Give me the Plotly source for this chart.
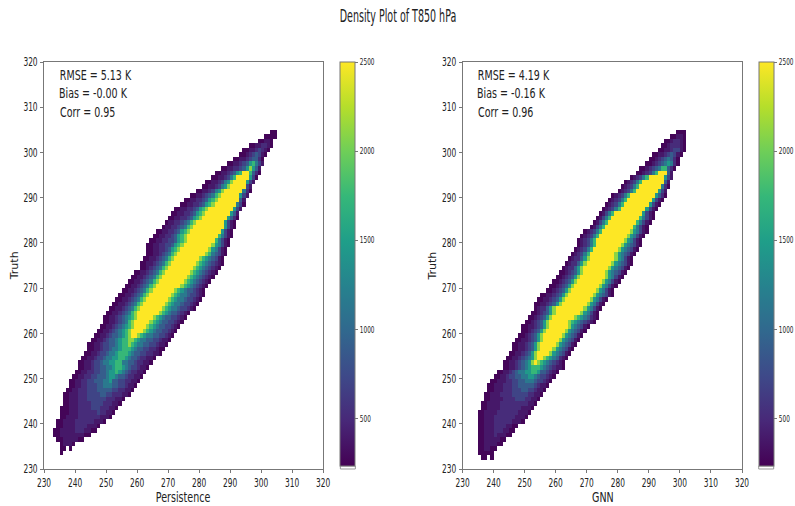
import plotly.graph_objects as go

TITLE = "Density Plot of T850 hPa"
TICKS = [230, 240, 250, 260, 270, 280, 290, 300, 310, 320]
CBAR_TICKS = [500, 1000, 1500, 2000, 2500]
LEVELS = [260, 380, 520, 700, 900, 1150, 1450, 1750, 2100, 2500]
STATS_A = ["RMSE = 5.13 K", "Bias = -0.00 K", "Corr = 0.95"]
STATS_B = ["RMSE = 4.19 K", "Bias = -0.16 K", "Corr = 0.96"]

# (truth bin, first forecast bin, one density level per cell)
PERSISTENCE = [
    (304, 303, "00"), (303, 301, "0000"), (302, 299, "00110"), (301, 296, "00112210"),
    (300, 294, "001123210"), (299, 293, "001234310"), (298, 291, "0011234420"),
    (297, 289, "001123467531"), (296, 287, "0011223468641"), (295, 285, "001123467997420"),
    (294, 284, "001123579999630"), (293, 282, "0011235689999631"), (292, 281, "0011235689999931"),
    (291, 279, "001123568999999520"), (290, 277, "0011234578999999631"),
    (289, 275, "00112234678999999941"), (288, 274, "001122346789999999530"),
    (287, 272, "0011223467899999999631"), (286, 271, "0011223467899999999641"),
    (285, 270, "00112234678999999996420"), (284, 269, "01122345789999999996310"),
    (283, 268, "011223457899999999996310"), (282, 266, "0011223467899999999996310"),
    (281, 265, "00112234678999999999975310"), (280, 264, "00112233467899999999975310"),
    (279, 263, "001122334678999999999865310"), (278, 263, "00112234678999999999865310"),
    (277, 263, "00112345789999999998754310"), (276, 262, "00112345789999999987654310"),
    (275, 261, "001123457899999999876543210"), (274, 261, "00123457899999999876543210"),
    (273, 259, "001123457899999999876543210"), (272, 258, "001123457899999999876543210"),
    (271, 257, "001123457899999999876543210"), (270, 256, "001123457899999999876543210"),
    (269, 255, "001123457899999998765443210"), (268, 254, "0011234578999999987655433210"),
    (267, 253, "0011234578999999987655433210"), (266, 252, "0011234578999999987655433210"),
    (265, 251, "0011234578999999987655433210"), (264, 250, "001123457899999998765443210"),
    (263, 249, "001123456789999987654433210"), (262, 249, "00112345789999987654433210"),
    (261, 248, "00112345678999987654433210"), (260, 247, "00112345678999987654433210"),
    (259, 246, "00112344567899876554433210"), (258, 245, "00112344567788765544332110"),
    (257, 244, "00112334456778765544332110"), (256, 244, "0011233455677765443322100"),
    (255, 243, "0011233455677765443322110"), (254, 242, "001123345566776544322110"),
    (253, 241, "001123345566775544322110"), (252, 241, "00112334455677654332110"),
    (251, 240, "00112233445667654322110"), (250, 239, "00112233444566544322110"),
    (249, 238, "00112233444556443322110"), (248, 238, "0011223334455544332110"),
    (247, 237, "0011222333444443322110"), (246, 236, "0011122233334433222110"),
    (245, 236, "00111222333333222110"), (244, 236, "0011122223333222110"),
    (243, 235, "0001112222333222110"), (242, 235, "000111222222322110"),
    (241, 235, "00111122222221110"), (240, 234, "0011112222221110"),
    (239, 234, "00111122221110"), (238, 233, "00111112221100"),
    (237, 233, "001111111100"), (236, 234, "001111100"), (235, 235, "01110"),
    (234, 235, "00.0"), (233, 235, "0"),
]

GNN = [
    (304, 299, "000"), (303, 297, "00110"), (302, 295, "0012210"), (301, 294, "00122210"),
    (300, 293, "001123310"), (299, 291, "0011234310"), (298, 290, "0012345420"),
    (297, 289, "00123456520"), (296, 287, "001234577420"), (295, 286, "001235799941"),
    (294, 284, "01235799999631"), (293, 282, "012357999999941"), (292, 281, "0123579999999520"),
    (291, 280, "0123579999999631"), (290, 278, "012357999999996420"),
    (289, 277, "012357999999996310"), (288, 276, "012357999999996310"),
    (287, 275, "012357999999996310"), (286, 274, "013579999999996310"),
    (285, 273, "0135799999999975310"), (284, 272, "0135799999999975310"),
    (283, 271, "0135799999999975310"), (282, 269, "012357999999999865310"),
    (281, 268, "012357999999999865310"), (280, 267, "012357999999999865310"),
    (279, 267, "012357999999998654310"), (278, 266, "012357999999998654310"),
    (277, 265, "012357999999998654310"), (276, 264, "012246899999999865310"),
    (275, 263, "0122468999999998654310"), (274, 262, "0122468999999998654310"),
    (273, 261, "0012346899999998654310"), (272, 260, "0012346899999999865310"),
    (271, 259, "0012346899999999865310"), (270, 258, "0012346899999999865310"),
    (269, 257, "0012346899999999865310"), (268, 255, "001123468999999998654310"),
    (267, 254, "00112346899999999865310"), (266, 253, "00112346899999999865310"),
    (265, 253, "0122468999999999865310"), (264, 252, "0012346899999999865310"),
    (263, 251, "00123468999999987654210"), (262, 250, "00123468999999876543210"),
    (261, 249, "0011234689999998654310"), (260, 249, "001234689999998654310"),
    (259, 248, "001234689999998654310"), (258, 247, "001123468999998654310"),
    (257, 246, "001123468999998654310"), (256, 246, "00112346899998654310"),
    (255, 245, "00112346899998654310"), (254, 244, "00112345689987654210"),
    (253, 243, "00112345689876543210"), (252, 243, "00112345677765432110"),
    (251, 241, "00112345566776443210"), (250, 240, "00112334455665433210"),
    (249, 239, "00111223344555433210"), (248, 238, "00111222334444432110"),
    (247, 238, "0011122233344332110"), (246, 237, "0011122223333322110"),
    (245, 237, "001111222233322110"), (244, 236, "001111222222222110"),
    (243, 236, "00111122222221110"), (242, 235, "00111122222221110"),
    (241, 235, "0011122222221110"), (240, 235, "001112222221110"),
    (239, 235, "0011122221100"), (238, 235, "001112221100"),
    (237, 235, "00111211100"), (236, 235, "001111100"), (235, 235, "00111100"),
    (234, 235, "001100"), (233, 235, "00000"), (232, 236, "00.0"),
]

BINS = list(range(230, 320))
FONT = "DejaVu Sans, sans-serif"
GREY = "#777777"
INK = "#222222"
W, H = 795, 506
LEFT, RIGHT, TOP, BOTTOM = 44, 742.3, 62, 469.5


def px(x):
    return (x - LEFT) / (RIGHT - LEFT)


def py(y):
    return (BOTTOM - y) / (BOTTOM - TOP)


def grid(rows):
    z = [[None] * len(BINS) for _ in BINS]
    for truth, start, cells in rows:
        for k, c in enumerate(cells):
            if c != ".":
                z[truth - 230][start - 230 + k] = LEVELS[int(c)]
    return z


def colorbar(left):
    return dict(
        x=px(left), xanchor="left", xpad=0, thickness=15, thicknessmode="pixels",
        y=1, yanchor="top", ypad=0, len=404.5 / 407.5, lenmode="fraction",
        tickvals=CBAR_TICKS, ticks="outside", ticklen=3, tickcolor=GREY,
        tickfont=dict(size=9, family=FONT, color=INK),
        outlinecolor=GREY, outlinewidth=1,
    )


fig = go.Figure()
centres = [b + 0.5 for b in BINS]
for rows, ax, left in [(PERSISTENCE, "", 340.5), (GNN, "2", 759)]:
    fig.add_trace(go.Heatmap(
        x=centres, y=centres, z=grid(rows), xaxis="x" + ax, yaxis="y" + ax,
        colorscale="Viridis", zmin=234, zmax=2500, colorbar=colorbar(left),
        hoverongaps=False,
    ))

axis = dict(range=[230, 320], tickvals=TICKS, ticks="outside", ticklen=3, tickcolor=GREY,
            showgrid=False, zeroline=False, showline=True, mirror=True,
            linecolor=GREY, linewidth=1, tickfont=dict(size=12, family=FONT, color=INK))


def label(text, x, y, size, angle=0):
    return dict(text=text, xref="paper", yref="paper", x=px(x), y=py(y), showarrow=False,
                xanchor="center", yanchor="middle", textangle=angle,
                font=dict(size=size, family=FONT, color=INK))


annotations = []
for name, cx, trux, offset, stats in [("Persistence", 183.5, 14.5, 0, STATS_A),
                                      ("GNN", 603, 433, 418, STATS_B)]:
    annotations.append(label(name, cx, 498, 14))
    annotations.append(label("Truth", trux, 266, 11, -90))
    for k, (s, c) in enumerate(zip(stats, (96, 94, 88))):
        annotations.append(label(s, c + offset, 75 + 18.4 * k, 14))

shapes = [dict(type="rect", xref="paper", yref="paper", x0=px(l), x1=px(l + 15),
               y0=py(469.5), y1=py(466.5), line=dict(color="#999999", width=1), fillcolor="white")
          for l in (340.5, 759)]

fig.update_layout(
    width=W, height=H, autosize=False,
    margin=dict(l=LEFT, r=W - RIGHT, t=TOP, b=H - BOTTOM, autoexpand=False),
    paper_bgcolor="white", plot_bgcolor="white",
    title=dict(text=TITLE, x=398 / W, xanchor="center", y=1 - 16 / H, yanchor="middle",
               font=dict(size=17, family=FONT, color=INK)),
    xaxis=dict(axis, domain=[0, px(323.3)], anchor="y"),
    yaxis=dict(axis, domain=[0, 1], anchor="x"),
    xaxis2=dict(axis, domain=[px(462.7), 1], anchor="y2"),
    yaxis2=dict(axis, domain=[0, 1], anchor="x2"),
    annotations=annotations, shapes=shapes,
)

# The reference is a horizontally squeezed image: narrow the glyphs, keep them as text.
SQUEEZE = """
document.body.style.margin='0';
(function(){
  function squeeze(sel,f){
    document.querySelectorAll(sel).forEach(function(t){
      if(t.textContent==='Truth'){return;}
      t.setAttribute('lengthAdjust','spacingAndGlyphs');
      t.setAttribute('textLength',t.getComputedTextLength()*f);
    });
  }
  squeeze('.gtitle',0.56);
  squeeze('.xtick text, .ytick text, .x2tick text, .y2tick text',0.62);
  squeeze('.annotation-text',0.68);
  squeeze('.cbaxis text, .colorbar text',0.64);
})();
"""
fig.write_html("out.html", post_script=SQUEEZE, config={"displayModeBar": False})
